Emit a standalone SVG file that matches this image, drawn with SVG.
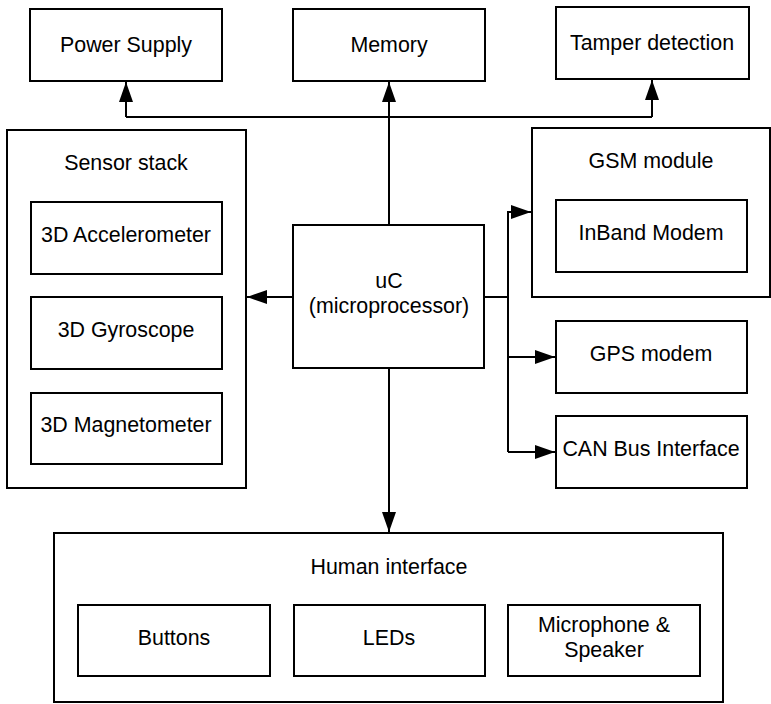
<svg xmlns="http://www.w3.org/2000/svg" width="771" height="704" viewBox="0 0 771 704">
<style>
rect{fill:#fff;stroke:#000;stroke-width:2}
text{font-family:"Liberation Sans",Arial,sans-serif;font-size:21.4px;fill:#000;text-anchor:middle}
.c{fill:none;stroke:#000;stroke-width:2}
</style>
<defs>
<marker id="a" viewBox="0 0 20 14" refX="20" refY="7" markerWidth="20" markerHeight="14" markerUnits="userSpaceOnUse" orient="auto">
<path d="M0,0L20,7L0,14z" fill="#000"/>
</marker>
</defs>
<rect x="0" y="0" width="771" height="704" style="stroke:none"/>
<g id="connectors">
<path class="c" d="M389,225V117M126,117H652" />
<path class="c" d="M126,117V82" marker-end="url(#a)"/>
<path class="c" d="M389,117V82" marker-end="url(#a)"/>
<path class="c" d="M652,117V80" marker-end="url(#a)"/>
<path class="c" d="M293,297H247" marker-end="url(#a)"/>
<path class="c" d="M485,297H508V452" />
<path class="c" d="M508,297V212H531" marker-end="url(#a)"/>
<path class="c" d="M508,357H555" marker-end="url(#a)"/>
<path class="c" d="M508,452H555" marker-end="url(#a)"/>
<path class="c" d="M389,368V532" marker-end="url(#a)"/>
</g>
<g id="power"><rect x="30" y="9" width="192" height="72"/><text x="126" y="52">Power Supply</text></g>
<g id="memory"><rect x="293" y="9" width="192" height="72"/><text x="389" y="52">Memory</text></g>
<g id="tamper"><rect x="556" y="7" width="193" height="72"/><text x="652" y="50">Tamper detection</text></g>
<g id="sensor"><rect x="7" y="130" width="239" height="358"/><text x="126" y="170">Sensor stack</text>
<g id="accel"><rect x="31" y="202" width="191" height="72"/><text x="126" y="242">3D Accelerometer</text></g>
<g id="gyro"><rect x="31" y="297" width="191" height="72"/><text x="126" y="337">3D Gyroscope</text></g>
<g id="mag"><rect x="31" y="393" width="191" height="71"/><text x="126" y="432">3D Magnetometer</text></g>
</g>
<g id="uc"><rect x="293" y="225" width="191" height="143"/><text x="389" y="288">uC</text><text x="389" y="313">(microprocessor)</text></g>
<g id="gsm"><rect x="532" y="128" width="238" height="169"/><text x="651" y="168">GSM module</text>
<g id="inband"><rect x="556" y="200" width="191" height="72"/><text x="651" y="240">InBand Modem</text></g>
</g>
<g id="gps"><rect x="556" y="321" width="191" height="72"/><text x="651" y="361">GPS modem</text></g>
<g id="can"><rect x="556" y="416" width="191" height="72"/><text x="651" y="456">CAN Bus Interface</text></g>
<g id="human"><rect x="54" y="533" width="669" height="169"/><text x="389" y="574">Human interface</text>
<g id="buttons"><rect x="78" y="605" width="192" height="71"/><text x="174" y="645">Buttons</text></g>
<g id="leds"><rect x="294" y="605" width="191" height="71"/><text x="389" y="645">LEDs</text></g>
<g id="mic"><rect x="508" y="605" width="192" height="71"/><text x="604" y="632">Microphone &amp;</text><text x="604" y="657">Speaker</text></g>
</g>
</svg>
